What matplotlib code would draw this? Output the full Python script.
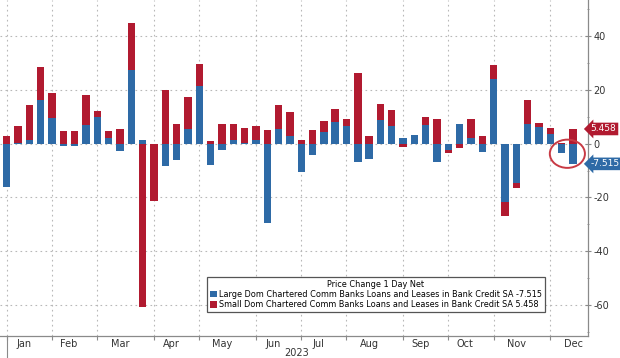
import numpy as np
import matplotlib
matplotlib.use("Agg")
import matplotlib.pyplot as plt
from matplotlib.patches import Ellipse
from matplotlib.lines import Line2D
import matplotlib.transforms as mtransforms

# weekly values, Jan 4 2023 .. Dec 20 2023
large = [-16.2, 0.3, 1.5, 16.1, 9.7, -0.7, -1.0, 6.8, 9.9, 2.2, -2.8, 27.3, 1.2,
         0.0, -8.3, -5.9, 5.6, 21.3, -8.0, -2.4, 1.5, 0.2, 1.5, -29.6, 5.6, 2.7,
         -10.5, -4.1, 4.3, 8.1, 6.4, -6.8, -5.6, 8.9, 6.4, 2.2, 3.1, 6.8, -6.8,
         -2.5, 7.2, 2.2, -3.1, 24.2, -21.6, -14.8, 7.2, 6.2, 3.7, -3.5, -7.515]
small = [2.7, 6.2, 13.0, 12.4, 9.1, 4.7, 4.6, 11.4, 2.2, 2.6, 5.6, 17.7, -60.6,
         -21.2, 20.1, 7.2, 11.8, 8.4, 1.0, 7.2, 5.7, 5.6, 5.1, 5.2, 8.7, 9.1,
         1.2, 5.2, 4.0, 4.9, 2.9, 26.3, 2.7, 5.7, 6.0, -1.2, 0.2, 3.1, 9.3,
         -1.0, -1.5, 6.8, 2.9, 5.2, -5.2, -1.8, 9.2, 1.5, 2.2, 0.1, 5.458]
months = ["Jan", "Feb", "Mar", "Apr", "May", "Jun", "Jul", "Aug", "Sep", "Oct", "Nov", "Dec"]
weeks_per_month = [4, 4, 5, 4, 5, 4, 4, 5, 4, 4, 5, 3]

large_label = "Large Dom Chartered Comm Banks Loans and Leases in Bank Credit SA -7.515"
small_label = "Small Dom Chartered Comm Banks Loans and Leases in Bank Credit SA 5.458"

blue = "#2e6aa6"
red = "#b11a30"
grid_c = "#b8b8b8"
axis_c = "#8a8a8a"

large = np.array(large)
small = np.array(small)
x = np.arange(len(large))

fig = plt.figure(figsize=(6.2, 3.58), dpi=100)
ax = fig.add_axes([0.0, 0.0615, 0.948, 0.9385])

# stack positives up from 0 and negatives down from 0
w = 0.65
ax.bar(x, large, width=w, color=blue, label=large_label, zorder=3)
base = np.where(np.sign(small) == np.sign(large), large, 0.0)
ax.bar(x, small, width=w, bottom=base, color=red, label=small_label, zorder=3)

ax.set_xlim(-0.59, 51.3)
ax.set_ylim(-71.5, 53.4)

# month ticks: gridlines at first week of each month, labels centered
starts = np.concatenate([[0], np.cumsum(weeks_per_month)[:-1]])
ends = starts + np.array(weeks_per_month)
centers = (starts + ends) / 2 - 0.5
centers[-1] = starts[-1] + 2.0
ax.set_xticks(starts)
ax.set_xticklabels([])
ax.set_xticks(centers, minor=True)
ax.set_xticklabels(months, minor=True, fontsize=7, color="#333333")
ax.tick_params(axis="x", which="major", length=3, color=axis_c)
ax.tick_params(axis="x", which="minor", length=0, pad=2)

ax.yaxis.tick_right()
ax.set_yticks([-60, -40, -20, 0, 20, 40])
ax.set_yticks(np.arange(-70, 51, 10), minor=True)
ax.set_yticklabels(["-60", "-40", "-20", "0", "20", "40"], fontsize=7, color="#333333")
ax.tick_params(axis="y", which="major", length=4, color=axis_c, pad=2, direction="inout")
ax.tick_params(axis="y", which="minor", length=2, color=axis_c, direction="inout")

ax.grid(True, which="major", color=grid_c, linestyle=(0, (1.5, 3)), linewidth=0.8, zorder=0)
for s in ["top", "left"]:
    ax.spines[s].set_visible(False)
for s in ["bottom", "right"]:
    ax.spines[s].set_color(axis_c)
    ax.spines[s].set_linewidth(0.9)

# last value tags on the right axis
trans = mtransforms.blended_transform_factory(ax.transAxes, ax.transData)
ax.text(1.005, small[-1], "%.3f" % small[-1], transform=trans, fontsize=6.5, color="white",
        ha="left", va="center", clip_on=False,
        bbox=dict(boxstyle="larrow,pad=0.2", fc=red, ec="none"))
ax.text(1.005, large[-1], "%.3f" % large[-1], transform=trans, fontsize=6.5, color="white",
        ha="left", va="center", clip_on=False,
        bbox=dict(boxstyle="larrow,pad=0.2", fc=blue, ec="none"))

# red circle around the last two weeks
cx = x[-2:].mean()
cy = min(large[-2:].min(), 0) / 2
ax.add_patch(Ellipse((cx, cy), 3.1, 10.5, fill=False, ec="#c83a44", lw=1.4, zorder=5))

leg = ax.legend(loc="lower right", bbox_to_anchor=(0.927, 0.071), title="Price Change 1 Day Net",
                fontsize=5.9, title_fontsize=5.9, frameon=True, fancybox=False,
                handlelength=0.8, handleheight=0.8, handletextpad=0.3, borderpad=0.35,
                labelspacing=0.15, borderaxespad=0)
leg.get_frame().set_edgecolor("#555555")
leg.get_frame().set_linewidth(0.9)
leg.get_frame().set_alpha(1)
leg.set_zorder(6)

fig.text(297 / 620, 5 / 358, "2023", fontsize=7, color="#333333", ha="center", va="center")
fig.add_artist(Line2D([7 / 620, 7 / 620], [0, 22 / 358], color=axis_c, lw=0.8))

fig.savefig("out.png", dpi=100)
